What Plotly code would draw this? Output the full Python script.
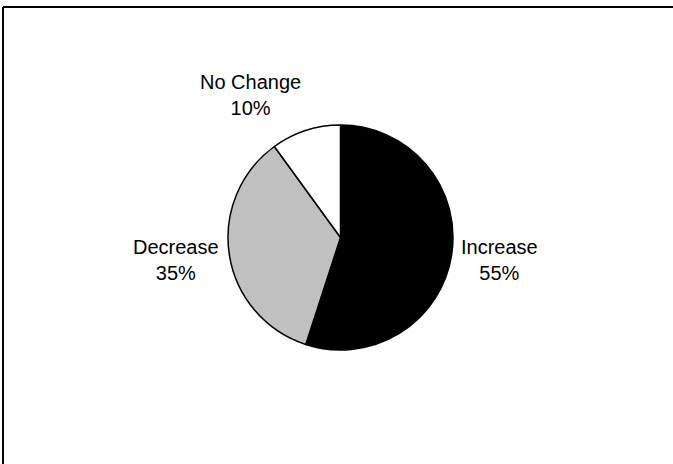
import plotly.graph_objects as go

categories = ["Increase", "Decrease", "No Change"]
values = [55, 35, 10]
colors = ["#000000", "#C0C0C0", "#FFFFFF"]

W, H = 673, 464
cx, cy, r = 340.5, 237.5, 112.5

fig = go.Figure(go.Pie(
    labels=categories,
    values=values,
    sort=False,
    direction="clockwise",
    rotation=0,
    marker=dict(colors=colors, line=dict(color="#000000", width=1.5)),
    textinfo="none",
    hoverinfo="label+percent",
    showlegend=False,
    domain=dict(x=[(cx - r) / W, (cx + r) / W], y=[(H - cy - r) / H, (H - cy + r) / H]),
))

# label positions (pixels) for each category
label_pos = {"Increase": (499, 260), "Decrease": (176, 260), "No Change": (250, 95)}
total = sum(values)
for cat, v in zip(categories, values):
    x, y = label_pos[cat]
    fig.add_annotation(
        x=x / W, y=1 - y / H, xref="paper", yref="paper",
        text=f"{cat}<br>{round(100 * v / total)}%",
        showarrow=False, xanchor="center", yanchor="middle",
        font=dict(family="Liberation Sans, Arial, sans-serif", size=20, color="#000000"),
    )

# outer frame (top and left edges visible)
fig.add_shape(type="line", xref="paper", yref="paper",
              x0=3 / W, x1=1, y0=1 - 7 / H, y1=1 - 7 / H,
              line=dict(color="#000000", width=2))
fig.add_shape(type="line", xref="paper", yref="paper",
              x0=3 / W, x1=3 / W, y0=0, y1=1 - 7 / H,
              line=dict(color="#000000", width=2))

fig.update_layout(
    width=W, height=H,
    margin=dict(l=0, r=0, t=0, b=0),
    paper_bgcolor="#FFFFFF", plot_bgcolor="#FFFFFF",
)

fig.write_html("out.html", config={"displayModeBar": False},
               post_script="document.body.style.margin='0px';document.body.style.overflow='hidden';document.documentElement.style.overflow='hidden';")
